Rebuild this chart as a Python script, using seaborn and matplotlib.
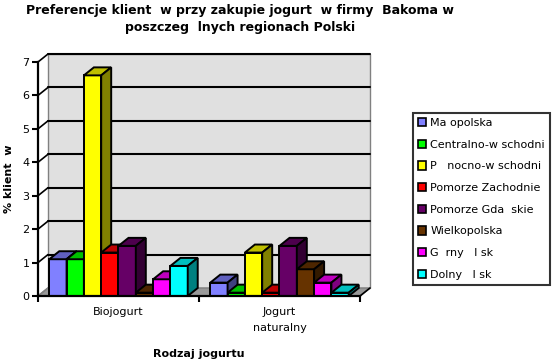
import matplotlib
matplotlib.use("Agg")
import matplotlib.pyplot as plt
import seaborn as sns
import pandas as pd
import numpy as np
from matplotlib.patches import Polygon, Patch, Rectangle

sns.set_style("white")
plt.rcParams['font.family'] = ['DejaVu Sans']
plt.rcParams['text.color'] = 'black'
plt.rcParams['axes.labelcolor'] = 'black'
plt.rcParams['xtick.color'] = 'black'
plt.rcParams['ytick.color'] = 'black'

categories = ["Biojogurt", "Jogurt\nnaturalny"]
regions = ["Ma opolska", "Centralno-w schodni", "P   nocno-w schodni", "Pomorze Zachodnie",
           "Pomorze Gda  skie", "Wielkopolska", "G  rny   l sk", "Dolny   l sk"]
bio_values = [1.1, 1.1, 6.6, 1.3, 1.5, 0.1, 0.5, 0.9]
nat_values = [0.4, 0.1, 1.3, 0.1, 1.5, 0.8, 0.4, 0.1]
colors = ["#8080FF", "#00FF00", "#FFFF00", "#FF0000", "#660066", "#663300", "#FF00FF", "#00FFFF"]
yticks = [0, 1, 2, 3, 4, 5, 6, 7]

rows = []
for r, b, n in zip(regions, bio_values, nat_values):
    rows.append({"Rodzaj": categories[0], "Region": r, "val": b})
    rows.append({"Rodzaj": categories[1], "Region": r, "val": n})
df = pd.DataFrame(rows)

W, H = 555, 362
fig = plt.figure(figsize=(W / 100, H / 100), dpi=100)
L, R, B, T = 38, 360, 296, 62
ax = fig.add_axes([L / W, (H - B) / H, (R - L) / W, (B - T) / H])
ax.set_facecolor("none")

sns.barplot(data=df, x="Rodzaj", y="val", hue="Region", hue_order=regions,
            order=categories, palette=colors, width=0.86, saturation=1,
            edgecolor="black", linewidth=1.4, legend=False, ax=ax)

x0, x1 = -0.5, 1.5
ax.set_xlim(x0, x1)
ax.set_ylim(0, 7)
dxp, dyp = 10, 8
dx = dxp / (R - L) * (x1 - x0)
dy = dyp / (B - T) * 7

gray_wall = "#e0e0e0"
ax.add_patch(Rectangle((x0 + dx, dy), x1 - x0, 7, facecolor=gray_wall, edgecolor="#808080",
                       lw=1.0, zorder=0.1, clip_on=False))
ax.add_patch(Polygon([(x0, 0), (x1, 0), (x1 + dx, dy), (x0 + dx, dy)], closed=True,
                     facecolor="#999999", edgecolor="#808080", lw=1.0, zorder=0.2, clip_on=False))
for v in yticks[1:]:
    ax.plot([x0 + dx, x1 + dx], [v + dy, v + dy], color="black", lw=1.5, zorder=0.3, clip_on=False)
for v in yticks:
    ax.plot([x0, x0 + dx], [v, v + dy], color="black" if v > 0 else "#808080", lw=1.2,
            zorder=0.3, clip_on=False)
ax.plot([x1, x1 + dx], [0, dy], color="black", lw=1.2, zorder=0.3, clip_on=False)

patches = sorted([p for p in ax.patches if isinstance(p, Rectangle) and p.get_width() < 0.5],
                 key=lambda p: p.get_x())
for i, p in enumerate(patches):
    x, w, h = p.get_x(), p.get_width(), p.get_height()
    fc = np.array(p.get_facecolor()[:3])
    z = 2 + i * 0.01
    p.set_zorder(z)
    top = Polygon([(x, h), (x + w, h), (x + w + dx, h + dy), (x + dx, h + dy)], closed=True,
                  facecolor=fc * 0.75, edgecolor="black", lw=1.4, zorder=z, clip_on=False)
    side = Polygon([(x + w, 0), (x + w + dx, dy), (x + w + dx, h + dy), (x + w, h)], closed=True,
                   facecolor=fc * 0.5, edgecolor="black", lw=1.4, zorder=z, clip_on=False)
    ax.add_patch(top)
    ax.add_patch(side)

for s in ["top", "right"]:
    ax.spines[s].set_visible(False)
for s in ["left", "bottom"]:
    ax.spines[s].set_color("black")
    ax.spines[s].set_linewidth(1.6)
    ax.spines[s].set_zorder(5)

ax.set_yticks(yticks)
ax.set_yticklabels([str(v) for v in yticks], fontsize=8)
ax.tick_params(axis="y", direction="out", length=4, width=1.5, color="black", pad=2, left=True)
ax.set_xticks([0, 1])
ax.set_xticklabels(categories, fontsize=8, linespacing=1.75)
ax.tick_params(axis="x", length=0, pad=8)
ax.set_xticks([x0, 0.5, x1], minor=True)
ax.tick_params(axis="x", which="minor", direction="out", length=4, width=1.5, color="black", bottom=True)

ax.set_ylabel("% klient  w", fontsize=8, fontweight="bold")
ax.set_xlabel("Rodzaj jogurtu", fontsize=8, fontweight="bold")
ax.yaxis.set_label_coords(-0.075, 0.5)
ax.xaxis.set_label_coords(0.5, -0.225)

fig.suptitle("Preferencje klient  w przy zakupie jogurt  w firmy  Bakoma w\nposzczeg  lnych regionach Polski",
             x=240 / W, y=1 - 4 / H, fontsize=9, fontweight="bold", linespacing=1.45, va="top")

handles = [Patch(facecolor=c, edgecolor="black", lw=1.2) for c in colors]
leg = fig.legend(handles, regions, loc="upper left", bbox_to_anchor=(413 / W, 1 - 113 / H),
                 fontsize=8, frameon=True, fancybox=False, handlelength=0.75, handleheight=0.75,
                 handletextpad=0.35, labelspacing=1.05, borderpad=0.45, borderaxespad=0)
leg.get_frame().set_edgecolor("black")
leg.get_frame().set_linewidth(1.5)

fig.savefig("out.png", dpi=100)
